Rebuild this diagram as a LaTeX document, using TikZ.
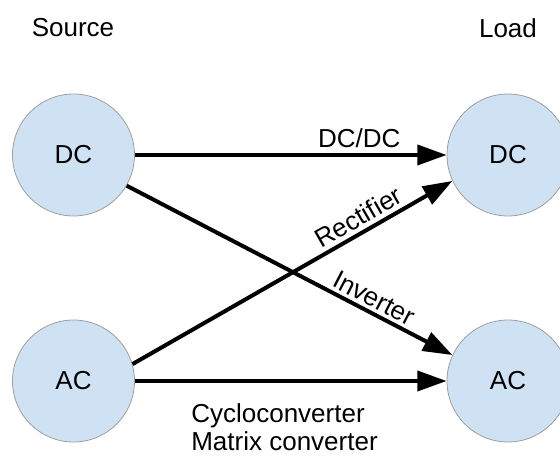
\documentclass[tikz,border=0pt]{standalone}
\usepackage{fontspec}
\setmainfont{Liberation Sans}
\usetikzlibrary{arrows.meta,positioning}
\definecolor{levelfill}{HTML}{CFE2F3}
\definecolor{levelrim}{HTML}{9E9E9E}

\begin{document}
\begin{tikzpicture}[
  x=0.75pt, y=-0.75pt,
  font=\fontsize{19.5}{21}\selectfont,
  >={Triangle[length=22pt,width=15pt]},
  level/.style={circle,draw=levelrim,line width=0.6pt,fill=levelfill,
                minimum size=91.5pt,inner sep=0pt},
  conv/.style ={->,line width=3pt},
  tag/.style  ={inner sep=1pt},
]
\useasboundingbox (0,0) rectangle (560,459);

%% =============================================
%% Source side
%% =============================================
\node (src) at (73,28) {Source};
\node[level] (dcs) at (73.5,155) {DC};
\node[level] (acs) at (73.5,381) {AC};

%% =============================================
%% Load side
%% =============================================
\node (load) at (508,28) {Load};
\node[level] (dcl) at (508,155) {DC};
\node[level] (acl) at (508,381) {AC};

%% =============================================
%% Converters
%% =============================================
\draw[conv] (dcs) -- node[tag,above=3pt,pos=0.72] {DC/DC} (dcl);
\draw[conv] (dcs.-30) -- node[tag,sloped,above=1.5pt,pos=0.74] {Inverter} (acl.155);
\draw[conv] (acs.16) -- node[tag,sloped,above=2pt,pos=0.73] {Rectifier} (dcl.205);
\draw[conv] (acs) -- node[tag,below=14.5pt,pos=0.48,align=left]
  {Cycloconverter\\Matrix converter} (acl);

\end{tikzpicture}
\end{document}
